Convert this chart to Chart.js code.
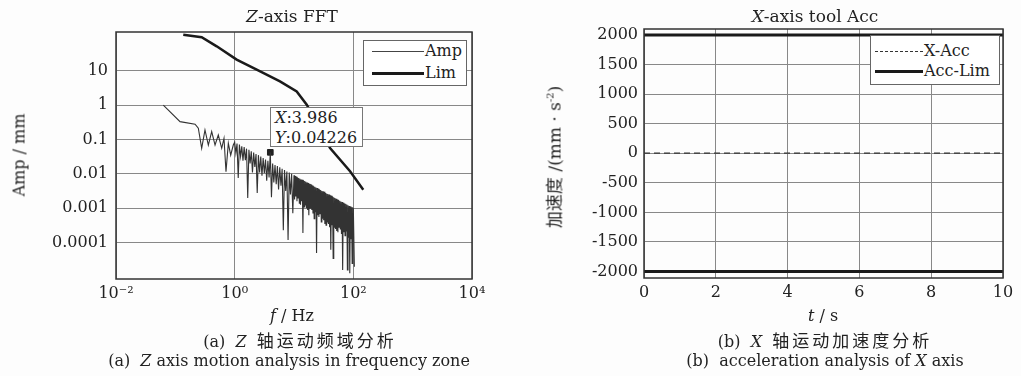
<!DOCTYPE html>
<html>
<head>
<meta charset="utf-8">
<script src="https://cdn.jsdelivr.net/npm/chart.js@4.4.0/dist/chart.umd.min.js"></script>
<style>
  body { margin: 0; width: 1021px; height: 376px; overflow: hidden; position: relative; background: #fdfdfd; color: #222;
         font-family: "DejaVu Serif", "Liberation Serif", serif; }
  .box { position: absolute; }
  .t { position: absolute; white-space: nowrap; font-size: 16px; transform: translate(-50%, -50%); }
  .ttl { font-size: 17px; }
  .cap { font-size: 16px; }
  .cn { font-family: "Noto Sans CJK SC", sans-serif; }
  .cap .cn { font-size: 17px; letter-spacing: 3px; }
  .rot { transform: translate(-50%, -50%) rotate(-90deg); }
  .leg { position: absolute; border: 1px solid #666; background: #fff; }
  .leg .s { position: absolute; }
  .leg .l { position: absolute; font-size: 16px; line-height: 18px; white-space: nowrap; }
  .tip { position: absolute; border: 1px solid #777; background: #fff; font-size: 16px; line-height: 20px; padding: 0 4px; }
</style>
</head>
<body>
<div class="box" style="left:0;top:0;width:510px;height:376px"><canvas id="fft"></canvas></div>
<div class="box" style="left:510px;top:0;width:511px;height:376px"><canvas id="acc"></canvas></div>

<div class="t ttl" style="left:292px;top:16px"><i>Z</i>-axis FFT</div>
<div class="t ttl" style="left:815px;top:16px"><i>X</i>-axis tool Acc</div>

<div class="t rot" style="left:19px;top:155px">Amp / mm</div>
<div class="t rot" style="left:553px;top:157px;font-size:17px"><span class="cn">加速度</span> /(mm · s<sup style="font-size:10px">-2</sup>)</div>

<div class="t" style="left:292px;top:315px"><i>f</i> / Hz</div>
<div class="t" style="left:823px;top:315px"><i>t</i> / s</div>

<div class="t cap" style="left:300px;top:339px">(a)&nbsp; <i>Z</i>&nbsp; <span class="cn">轴运动频域分析</span></div>
<div class="t cap" style="left:289px;top:360px">(a)&nbsp; <i>Z</i> axis motion analysis in frequency zone</div>
<div class="t cap" style="left:825px;top:339px">(b)&nbsp; <i>X</i>&nbsp; <span class="cn">轴运动加速度分析</span></div>
<div class="t cap" style="left:825px;top:360px">(b)&nbsp; acceleration analysis of <i>X</i> axis</div>

<div class="leg" style="left:363px;top:40px;width:102px;height:44px">
  <div class="s" style="left:8px;top:10px;width:52px;border-top:1px solid #444"></div>
  <div class="l" style="left:61px;top:1px">Amp</div>
  <div class="s" style="left:8px;top:31px;width:52px;border-top:3px solid #1a1a1a"></div>
  <div class="l" style="left:61px;top:23px">Lim</div>
</div>

<div class="leg" style="left:870px;top:35px;width:128px;height:48px">
  <div class="s" style="left:4px;top:15px;width:48px;border-top:1px dashed #333"></div>
  <div class="l" style="left:53px;top:6px">X-Acc</div>
  <div class="s" style="left:4px;top:34px;width:48px;border-top:3px solid #1a1a1a"></div>
  <div class="l" style="left:53px;top:26px">Acc-Lim</div>
</div>

<div class="tip" style="left:270px;top:107px;width:83px;height:38px"><i>X</i>:3.986<br><i>Y</i>:0.04226</div>

<script>
// Z-axis FFT amplitude (f in Hz, amplitude in mm)
const ampFreq = [0.0627, 0.12, 0.215, 0.244, 0.278, 0.316, 0.36, 0.41, 0.467, 0.53, 0.605, 0.661, 0.714, 0.782, 0.857, 0.948,
  1.0, 1.047, 1.096, 1.148, 1.202, 1.259, 1.318, 1.38, 1.445, 1.514, 1.585, 1.66, 1.738, 1.82, 1.905, 1.995,
  2.089, 2.188, 2.291, 2.399, 2.512, 2.63, 2.754, 2.884, 3.02, 3.162, 3.311, 3.467, 3.631, 3.802, 3.986, 4.169,
  4.365, 4.571, 4.786, 5.012, 5.248, 5.495, 5.754, 6.026, 6.31, 6.607, 6.918, 7.244, 7.586, 7.943, 8.318, 8.71,
  9.12, 9.55,
  10.0, 10.23, 10.47, 10.72, 10.96, 11.22, 11.48, 11.75, 12.02, 12.3, 12.59, 12.88, 13.18, 13.49, 13.8, 14.13,
  14.45, 14.79, 15.14, 15.49, 15.85, 16.22, 16.6, 16.98, 17.38, 17.78, 18.2, 18.62, 19.05, 19.5,
  19.95, 20.42, 20.89, 21.38, 21.88, 22.39, 22.91, 23.44, 23.99, 24.55, 25.12, 25.7, 26.3, 26.92, 27.54, 28.18,
  28.84, 29.51, 30.2, 30.9, 31.62, 32.36, 33.11, 33.88, 34.67, 35.48, 36.31, 37.15, 38.02, 38.9, 39.81, 40.74,
  41.69, 42.66, 43.65, 44.67, 45.71, 46.77, 47.86, 48.98, 50.12, 51.29, 52.48, 53.7, 54.95, 56.23, 57.54, 58.88,
  60.26, 61.66, 63.1, 64.57, 66.07, 67.61, 69.18, 70.79, 72.44, 74.13, 75.86, 77.62, 79.43, 81.28, 83.18, 85.11,
  87.1, 89.13, 91.2, 93.33, 95.5, 97.72, 100.0, 104.0];
const ampMag = [1.0, 0.33, 0.277, 0.212, 0.0555, 0.189, 0.069, 0.169, 0.069, 0.135, 0.0555, 0.108, 0.0116, 0.078, 0.035, 0.069,
  0.083, 0.040, 0.076, 0.0076, 0.071, 0.032, 0.063, 0.024, 0.060, 0.025, 0.054, 0.0020, 0.050, 0.020, 0.045, 0.011,
  0.042, 0.016, 0.038, 0.0028, 0.035, 0.011, 0.032, 0.0089, 0.029, 0.0105, 0.026, 0.0063, 0.024, 0.0079, 0.04226, 0.0021,
  0.020, 0.0056, 0.018, 0.0050, 0.017, 0.0035, 0.0155, 0.0045, 0.014, 0.00023, 0.0129, 0.0032, 0.0117, 0.00012, 0.011, 0.0025,
  0.010, 0.00072,
  0.0091, 0.0018, 0.0087, 0.0022, 0.0083, 0.0016, 0.0079, 0.0020, 0.0076, 0.0014, 0.0072, 0.00126, 0.0069, 0.0016, 0.0068, 0.00019,
  0.0065, 0.0011, 0.0062, 0.00126, 0.0059, 0.0010, 0.0056, 0.00089, 0.0054, 0.00063, 0.0051, 0.0010, 0.0049, 0.0048,
  0.00089, 0.0046, 0.0007, 0.0044, 0.0005, 0.0042, 0.00079, 0.0040, 0.00005, 0.0039, 0.00063, 0.0037, 0.00056, 0.0035, 0.0007, 0.0034,
  0.0004, 0.0032, 0.0005, 0.0031, 0.00045, 0.0030, 0.00035, 0.0028, 0.00032, 0.0027, 0.0004, 0.0026, 0.00035, 0.0025, 0.00028, 0.0024,
  0.000062, 0.0023, 0.00032, 0.0022, 0.000035, 0.0021, 0.00028, 0.0020, 0.00025, 0.0019, 0.00022, 0.0018, 0.0002, 0.00174, 0.00028, 0.00166,
  0.00025, 0.00158, 0.00018, 0.00151, 0.000016, 0.00145, 0.0002, 0.00138, 0.00016, 0.00135, 0.00022, 0.00129, 0.000016, 0.00123, 0.00014, 0.00117,
  0.000013, 0.00112, 0.000126, 0.00107, 0.000025, 0.00102, 0.0010, 0.00002];
// limit curve
const limFreq = [0.136, 0.278, 0.498, 1.08, 2.35, 5.8, 11.1, 16.4, 40.5, 88, 147];
const limMag = [111, 93.5, 51, 21, 10.7, 4.9, 2.5, 1.03, 0.0566, 0.0119, 0.00348];
// data tip
const tipFreq = 3.986;
const tipMag = 0.04226;

const fftXTicks = [0.01, 1, 100, 10000];
const fftXLabels = ['10\u207B\u00B2', '10\u2070', '10\u00B2', '10\u2074'];
const fftYTicks = [0.0001, 0.001, 0.01, 0.1, 1, 10];
const fftYLabels = ['0.0001', '0.001', '0.01', '0.1', '1', '10'];

// X-axis acceleration (t in s, mm/s^2)
const accTime = [0, 2, 4, 6, 8, 10];
const xAcc = [0, 0, 0, 0, 0, 0];
const accLimUp = [2000, 2000, 2000, 2000, 2000, 2000];
const accLimDown = [-2000, -2000, -2000, -2000, -2000, -2000];
const accXTicks = [0, 2, 4, 6, 8, 10];
const accYTicks = [-2000, -1500, -1000, -500, 0, 500, 1000, 1500, 2000];

const tickFont = { family: '"DejaVu Serif", serif', size: 16 };

let frame = {
  id: 'frame',
  afterDatasetsDraw(chart) {
    const a = chart.chartArea, ctx = chart.ctx;
    ctx.save();
    ctx.strokeStyle = '#333';
    ctx.lineWidth = 1.5;
    ctx.strokeRect(a.left, a.top, a.right - a.left, a.bottom - a.top);
    ctx.restore();
  }
};

let pts = (xs, ys) => xs.map((x, i) => ({ x: x, y: ys[i] }));

new Chart(document.getElementById('fft'), {
  type: 'line',
  data: {
    datasets: [
      { label: 'Amp', data: pts(ampFreq, ampMag), borderColor: '#333', borderWidth: 1.1, pointRadius: 0, tension: 0 },
      { label: 'Lim', data: pts(limFreq, limMag), borderColor: '#1a1a1a', borderWidth: 2.5, pointRadius: 0, tension: 0 },
      { label: 'tip', data: [{ x: tipFreq, y: tipMag }], showLine: false, pointStyle: 'rect', pointRadius: 4,
        backgroundColor: '#222', borderColor: '#222' }
    ]
  },
  options: {
    animation: false,
    responsive: true,
    maintainAspectRatio: false,
    layout: { padding: { left: 0, top: 32, right: 38, bottom: 77 } },
    plugins: { legend: { display: false }, tooltip: { enabled: false } },
    scales: {
      x: {
        type: 'logarithmic', min: 0.01, max: 10000,
        afterBuildTicks: (s) => { s.ticks = fftXTicks.map((v) => ({ value: v })); },
        afterFit: (s) => { s.height = 20; },
        ticks: { callback: (v, i) => fftXLabels[i], font: tickFont, color: '#222', padding: 5, maxRotation: 0, autoSkip: false },
        grid: { color: '#888', drawTicks: false },
        border: { display: false }
      },
      y: {
        type: 'logarithmic', min: 8.8e-6, max: 133,
        afterBuildTicks: (s) => { s.ticks = fftYTicks.map((v) => ({ value: v })); },
        afterFit: (s) => { s.width = 116; },
        ticks: { callback: (v, i) => fftYLabels[i], font: tickFont, color: '#222', padding: 8, autoSkip: false },
        grid: { color: '#888', drawTicks: false },
        border: { display: false }
      }
    }
  },
  plugins: [frame]
});

new Chart(document.getElementById('acc'), {
  type: 'line',
  data: {
    datasets: [
      { label: 'X-Acc', data: pts(accTime, xAcc), borderColor: '#333', borderWidth: 1.2, borderDash: [6, 4], pointRadius: 0 },
      { label: 'Acc-Lim', data: pts(accTime, accLimUp), borderColor: '#1a1a1a', borderWidth: 3, pointRadius: 0 },
      { label: 'Acc-Lim', data: pts(accTime, accLimDown), borderColor: '#1a1a1a', borderWidth: 3, pointRadius: 0 }
    ]
  },
  options: {
    animation: false,
    responsive: true,
    maintainAspectRatio: false,
    layout: { padding: { left: 0, top: 29, right: 18, bottom: 78 } },
    plugins: { legend: { display: false }, tooltip: { enabled: false } },
    scales: {
      x: {
        type: 'linear', min: 0, max: 10,
        afterBuildTicks: (s) => { s.ticks = accXTicks.map((v) => ({ value: v })); },
        afterFit: (s) => { s.height = 20; },
        ticks: { font: tickFont, color: '#222', padding: 5, maxRotation: 0, autoSkip: false },
        grid: { color: '#888', drawTicks: false },
        border: { display: false }
      },
      y: {
        type: 'linear', min: -2110, max: 2100,
        afterBuildTicks: (s) => { s.ticks = accYTicks.map((v) => ({ value: v })); },
        afterFit: (s) => { s.width = 134; },
        ticks: { callback: (v) => String(v), font: tickFont, color: '#222', padding: 6, autoSkip: false },
        grid: { color: '#888', drawTicks: false },
        border: { display: false }
      }
    }
  },
  plugins: [frame]
});
</script>
</body>
</html>
